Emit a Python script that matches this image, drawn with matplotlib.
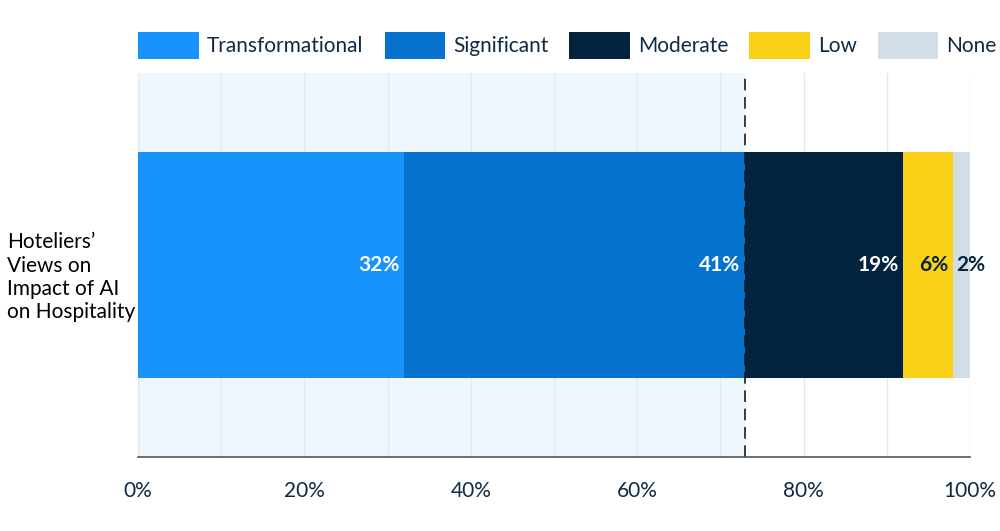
import matplotlib
matplotlib.use("Agg")
import numpy as np
import matplotlib.pyplot as plt
from matplotlib.patches import Patch

# --- data ---
categories = ["Transformational", "Significant", "Moderate", "Low", "None"]
values = [32, 41, 19, 6, 2]
colors = ["#1893FB", "#0873CF", "#03233F", "#FBD117", "#D3DDE5"]
label_colors = ["white", "white", "white", "#03233F", "#03233F"]
row_label = "Hoteliers’\nViews on\nImpact of AI\non Hospitality"
highlight_end = 73
xticks = [0, 20, 40, 60, 80, 100]

plt.rcParams["font.family"] = ["Lato", "DejaVu Sans"]
text_color = "#0F2A44"

fig = plt.figure(figsize=(10, 5.31), dpi=100)
ax = fig.add_axes([0.138, 0.139, 0.832, 0.7235])

# shaded highlight region + dashed marker
ax.axvspan(0, highlight_end, color="#EEF7FE", zorder=0, lw=0)
ax.axvline(highlight_end, color="#1A1A1A", lw=1.2, ls=(0, (7, 4)), zorder=3)

left = 0
for cat, val, col, lc in zip(categories, values, colors, label_colors):
    ax.barh(0, val, left=left, height=0.59, color=col, edgecolor="none", zorder=2)
    if val >= 5:
        ax.text(left + val - 0.6, 0, f"{val}%", ha="right", va="center",
                color=lc, fontsize=15, fontweight="bold", zorder=4)
    else:
        ax.text(left + 0.3, 0, f"{val}%", ha="left", va="center",
                color=lc, fontsize=15, fontweight="bold", zorder=4)
    left += val

ax.set_xlim(0, 100)
ax.set_ylim(-0.5, 0.5)
ax.set_yticks([])
ax.set_xticks(xticks)
ax.set_xticklabels([f"{t}%" for t in xticks])
ax.set_xticks(np.arange(10, 100, 20), minor=True)
ax.tick_params(axis="x", which="both", length=0, pad=17, labelsize=15, labelcolor=text_color)
ax.grid(axis="x", which="both", color="#E3E9EE", lw=1, zorder=1)
ax.set_axisbelow(True)
for s in ["top", "right", "left"]:
    ax.spines[s].set_visible(False)
ax.spines["bottom"].set_color("#555555")
ax.spines["bottom"].set_linewidth(1.2)
ax.spines["bottom"].set_zorder(5)

fig.text(0.007, 0.478, row_label, ha="left", va="center", fontsize=15,
         color="black", linespacing=1.2, transform=fig.transFigure)

handles = [Patch(facecolor=c, edgecolor="none", label=l) for c, l in zip(colors, categories)]
fig.legend(handles=handles, loc="center left", bbox_to_anchor=(0.128, 0.915),
           ncol=5, frameon=False, fontsize=15, handlelength=2.9, handleheight=1.6,
           handletextpad=0.4, columnspacing=1.0, borderpad=0, labelcolor=text_color)

fig.savefig("out.png", dpi=100)
